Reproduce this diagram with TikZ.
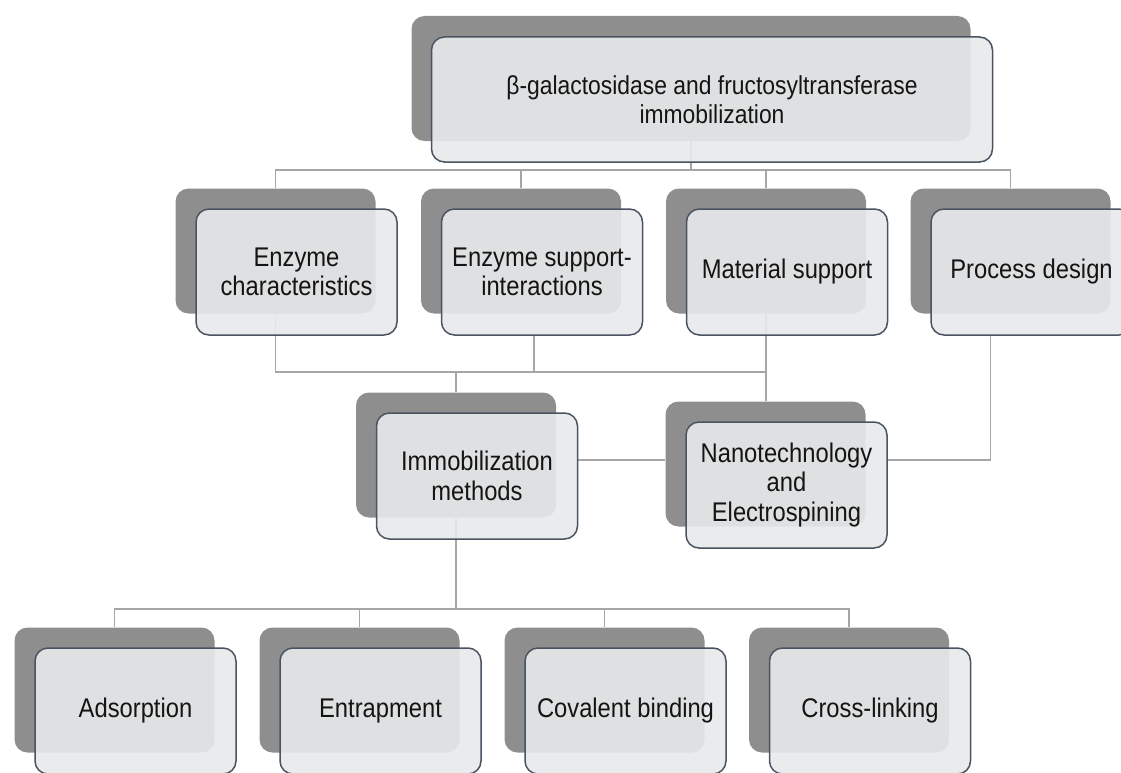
\documentclass[tikz,border=0pt]{standalone}
\usepackage{fontspec}
\setmainfont{Liberation Sans}[FakeStretch=0.88]
\usetikzlibrary{calc}
\pgfdeclarelayer{bg}
\pgfsetlayers{bg,main}
\definecolor{shadowgray}{RGB}{142,142,142}
\definecolor{frontfill}{RGB}{232,233,235}
\definecolor{frontline}{RGB}{74,84,96}
\definecolor{connline}{RGB}{166,166,166}
\definecolor{txt}{RGB}{20,20,20}
\begin{document}
\begin{tikzpicture}[x=1pt,y=-1pt,
  shadowbox/.style={fill=shadowgray, rounded corners=13pt, minimum width=200pt,
    minimum height=125pt, inner sep=0pt, draw=none},
  frontbox/.style={fill=frontfill, fill opacity=0.9, text opacity=1, draw=frontline,
    line width=1.5pt, rounded corners=13pt, minimum width=201pt, minimum height=126pt,
    align=center, text=txt, font=\fontsize{27}{29.5}\selectfont, inner sep=0pt},
  conn/.style={draw=connline, line width=1.6pt}]
\useasboundingbox (0,0) rectangle (1121,773);
\clip (0,0) rectangle (1121,773);

% shadows
\node[shadowbox, minimum width=559pt] (tops) at (691,78.5) {};
\node[shadowbox] (b1s) at (275.5,251) {};
\node[shadowbox] (b2s) at (521,251) {};
\node[shadowbox] (b3s) at (766,251) {};
\node[shadowbox] (b4s) at (1010.5,251) {};
\node[shadowbox] (is) at (456,455) {};
\node[shadowbox] (ns) at (765.5,464) {};
\node[shadowbox] (a1s) at (114.5,690) {};
\node[shadowbox] (a2s) at (359.5,690) {};
\node[shadowbox] (a3s) at (604.5,690) {};
\node[shadowbox] (a4s) at (849,690) {};

% fronts
\node[frontbox, minimum width=561pt, minimum height=125pt, font=\fontsize{26}{29}\selectfont] (top) at (712,99.5)
  {β-galactosidase and fructosyltransferase\\immobilization};
\node[frontbox] (b1) at (296.5,272) {Enzyme\\characteristics};
\node[frontbox] (b2) at (542,272) {Enzyme support-\\interactions};
\node[frontbox] (b3) at (787,272) {Material support};
\node[frontbox] (b4) at (1031.5,272) {Process design};
\node[frontbox] (im) at (477,476) {Immobilization\\methods};
\node[frontbox] (nt) at (786.5,485) {Nanotechnology\\and\\Electrospining};
\node[frontbox] (a1) at (135.5,711) {Adsorption};
\node[frontbox] (a2) at (380.5,711) {Entrapment};
\node[frontbox] (a3) at (625.5,711) {Covalent binding};
\node[frontbox] (a4) at (870,711) {Cross-linking};

\coordinate (bus1) at (0,170);
\coordinate (bus2) at (0,372);
\coordinate (mid) at (0,460);
\coordinate (bus3) at (0,609);
\coordinate (b2d) at ($(b2.south)+(-8,0)$);
\coordinate (b4d) at ($(b4.south)+(-41,0)$);

\begin{pgfonlayer}{bg}
  % top level
  \draw[conn] (tops.south) -- (tops.south |- bus1);
  \draw[conn] (b1s.north) -- (b1s.north |- bus1) -- (b4s.north |- bus1) -- (b4s.north);
  \draw[conn] (b2s.north) -- (b2s.north |- bus1);
  \draw[conn] (b3s.north) -- (b3s.north |- bus1);
  % second level
  \draw[conn] (b1s.south) -- (b1s.south |- bus2) -- (b3s.south |- bus2);
  \draw[conn] (b2d) -- (b2d |- bus2);
  \draw[conn] (b3s.south) -- (b3s.south |- ns.north);
  \draw[conn] (is.north) -- (is.north |- bus2);
  % middle
  \draw[conn] (im.east |- mid) -- (ns.west |- mid);
  \draw[conn] (b4d) -- (b4d |- mid) -- (nt.east |- mid);
  % bottom level
  \draw[conn] (is.south) -- (is.south |- bus3);
  \draw[conn] (a1s.north) -- (a1s.north |- bus3) -- (a4s.north |- bus3) -- (a4s.north);
  \draw[conn] (a2s.north) -- (a2s.north |- bus3);
  \draw[conn] (a3s.north) -- (a3s.north |- bus3);
\end{pgfonlayer}
\end{tikzpicture}
\end{document}
